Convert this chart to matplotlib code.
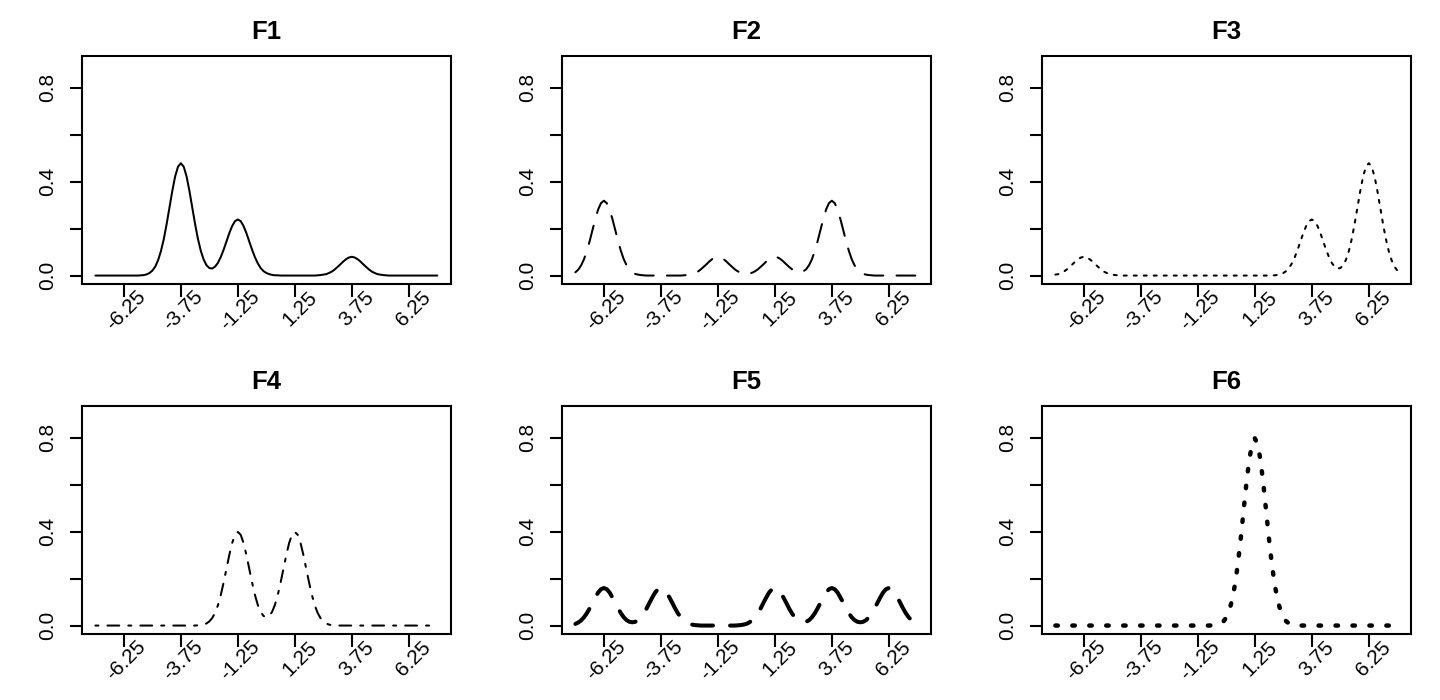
import numpy as np
import matplotlib
matplotlib.use("Agg")
import matplotlib.pyplot as plt
import matplotlib.transforms as mtransforms

plt.rcParams['font.family'] = ['Liberation Sans', 'DejaVu Sans']
plt.rcParams['lines.scale_dashes'] = False

# density values, x from -7.5 to 7.5 in steps of 0.125
x = np.linspace(-7.5, 7.5, 121)

f1 = ([0] * 16 +
      [.001, .002, .005, .011, .021, .038, .065, .104, .155, .219, .290, .361, .423,
       .464, .479, .464, .423, .361, .290, .219, .156, .105, .068, .044, .032, .030,
       .038, .054, .079, .110, .145, .181, .211, .232, .239, .232, .211, .181, .145,
       .110, .078, .052, .032, .019, .011, .006, .003, .001, .001] +
      [0] * 13 +
      [.001, .002, .004, .006, .011, .017, .026, .037, .048, .060, .070, .077, .080,
       .077, .070, .060, .048, .037, .026, .017, .011, .006, .004, .002, .001] +
      [0] * 18)
f2 = ([.014, .025, .043, .069, .104, .146, .194, .241, .282, .309, .319, .309, .282,
       .241, .194, .146, .104, .069, .043, .025, .014, .007, .004, .002, .001] +
      [0] * 13 +
      [.001, .002, .004, .006, .011, .017, .026, .037, .048, .060, .070, .077, .080,
       .077, .070, .060, .048, .037, .026, .018, .012, .008, .007, .008, .012, .018,
       .026, .037, .048, .060, .070, .077, .080,
       .077, .070, .060, .048, .037, .027, .019, .014, .014, .018, .027, .044, .069,
       .104, .146, .194, .241, .282, .309, .319,
       .309, .282, .241, .194, .146, .104, .069, .043, .025, .014, .007, .004, .002,
       .001] +
      [0] * 16)
f3 = ([.004, .006, .011, .017, .026, .037, .048, .060, .070, .077, .080, .077, .070,
       .060, .048, .037, .026, .017, .011, .006, .004, .002, .001] +
      [0] * 53 +
      [.001, .001, .003, .006, .011, .019, .032, .052, .078, .110, .145, .181, .211,
       .232, .239, .232, .211, .181, .145, .110, .079, .054, .038, .030, .032, .044,
       .068, .105, .156, .219, .290, .361, .423, .464, .479, .464, .423, .361, .290,
       .219, .155, .104, .065, .038, .021])
f4 = ([0] * 36 +
      [.001, .002, .004, .009, .018, .032, .054, .086, .130, .183, .242, .301, .352,
       .387, .399, .387, .352, .301, .242, .183, .130, .088, .058, .041, .035, .041,
       .058, .088, .130, .183, .242, .301, .352, .387, .399, .387, .352, .301, .242,
       .183, .130, .086, .054, .032, .018, .009, .004, .002, .001] +
      [0] * 36)
f5 = ([.007, .013, .022, .035, .052, .073, .097, .120, .141, .155,
       .160, .155, .141, .120, .097, .073, .052, .035, .023, .016,
       .014, .016, .023, .035, .052, .073, .097, .120, .141, .155,
       .160, .155, .141, .120, .097, .073, .052, .035, .022, .013,
       .007, .004, .002, .001] +
      [0] * 13 +
      [.001, .002, .004,
       .007, .013, .022, .035, .052, .073, .097, .120, .141, .155,
       .160, .155, .141, .120, .097, .073, .052, .035, .023, .016,
       .014, .016, .023, .035, .052, .073, .097, .120, .141, .155,
       .160, .155, .141, .120, .097, .073, .052, .035, .023, .016,
       .014, .016, .023, .035, .052, .073, .097, .120, .141, .155,
       .160, .155, .141, .120, .097, .073, .052, .035, .022, .013,
       .007])
f6 = ([0] * 55 +
      [.001, .002, .004, .009, .018, .035, .064, .108, .173, .259, .365, .484, .602,
       .704, .773, .798, .773, .704, .602, .484, .365, .259, .173, .108, .064, .035,
       .018, .009, .004, .002, .001] +
      [0] * 35)

titles = ['F1', 'F2', 'F3', 'F4', 'F5', 'F6']
series = [f1, f2, f3, f4, f5, f6]
xticks = [-6.25, -3.75, -1.25, 1.25, 3.75, 6.25]
yticks = [0.0, 0.2, 0.4, 0.6, 0.8]
ylabels = ['0.0', '', '0.4', '', '0.8']

# R style line types: solid, dashed, dotted, dotdash, longdash (lwd 2), dotted (lwd 2.5)
styles = [
    dict(lw=1.45, ls='-'),
    dict(lw=1.45, ls=(0, (13.5, 9.5))),
    dict(lw=1.45, ls=(0, (2.2, 5.0))),
    dict(lw=1.45, ls=(0, (2.2, 6.5, 8.5, 6.5))),
    dict(lw=2.9, ls=(0, (15.0, 12.3))),
    dict(lw=3.2, ls=(0, (1.8, 10.4))),
]

fig = plt.figure(figsize=(14.4, 7), dpi=100)
W, H = 1440.0, 700.0
lefts = [81.7, 561.7, 1041.7]
tops = [56, 406]
pw, ph = 369.3, 228

for i in range(6):
    r, c = divmod(i, 3)
    ax = fig.add_axes([lefts[c] / W, (H - tops[r] - ph) / H, pw / W, ph / H])
    st = styles[i]
    ax.plot(x, series[i], color='black', lw=st['lw'], linestyle=st['ls'],
            dash_capstyle='round', solid_capstyle='round')
    ax.set_xlim(-8.1, 8.1)
    ax.set_ylim(-0.036, 0.936)
    ax.set_title(titles[i], fontsize=18.5, fontweight='bold', pad=12)
    for sp in ax.spines.values():
        sp.set_linewidth(1.5)
    ax.set_yticks(yticks)
    ax.set_yticklabels(ylabels, rotation=90, va='center', fontsize=15)
    ax.set_xticks(xticks)
    ax.set_xticklabels([])
    ax.tick_params(axis='both', length=9, width=1.5, direction='out')
    ax.tick_params(axis='y', pad=9)
    off = mtransforms.ScaledTranslation(0.19, -0.10, fig.dpi_scale_trans)
    trans = mtransforms.blended_transform_factory(ax.transData, ax.transAxes) + off
    for t in xticks:
        ax.text(t, 0, '%.2f' % t, transform=trans, rotation=45,
                rotation_mode='anchor', ha='right', va='center', fontsize=15)

fig.savefig('out.png', dpi=100)
